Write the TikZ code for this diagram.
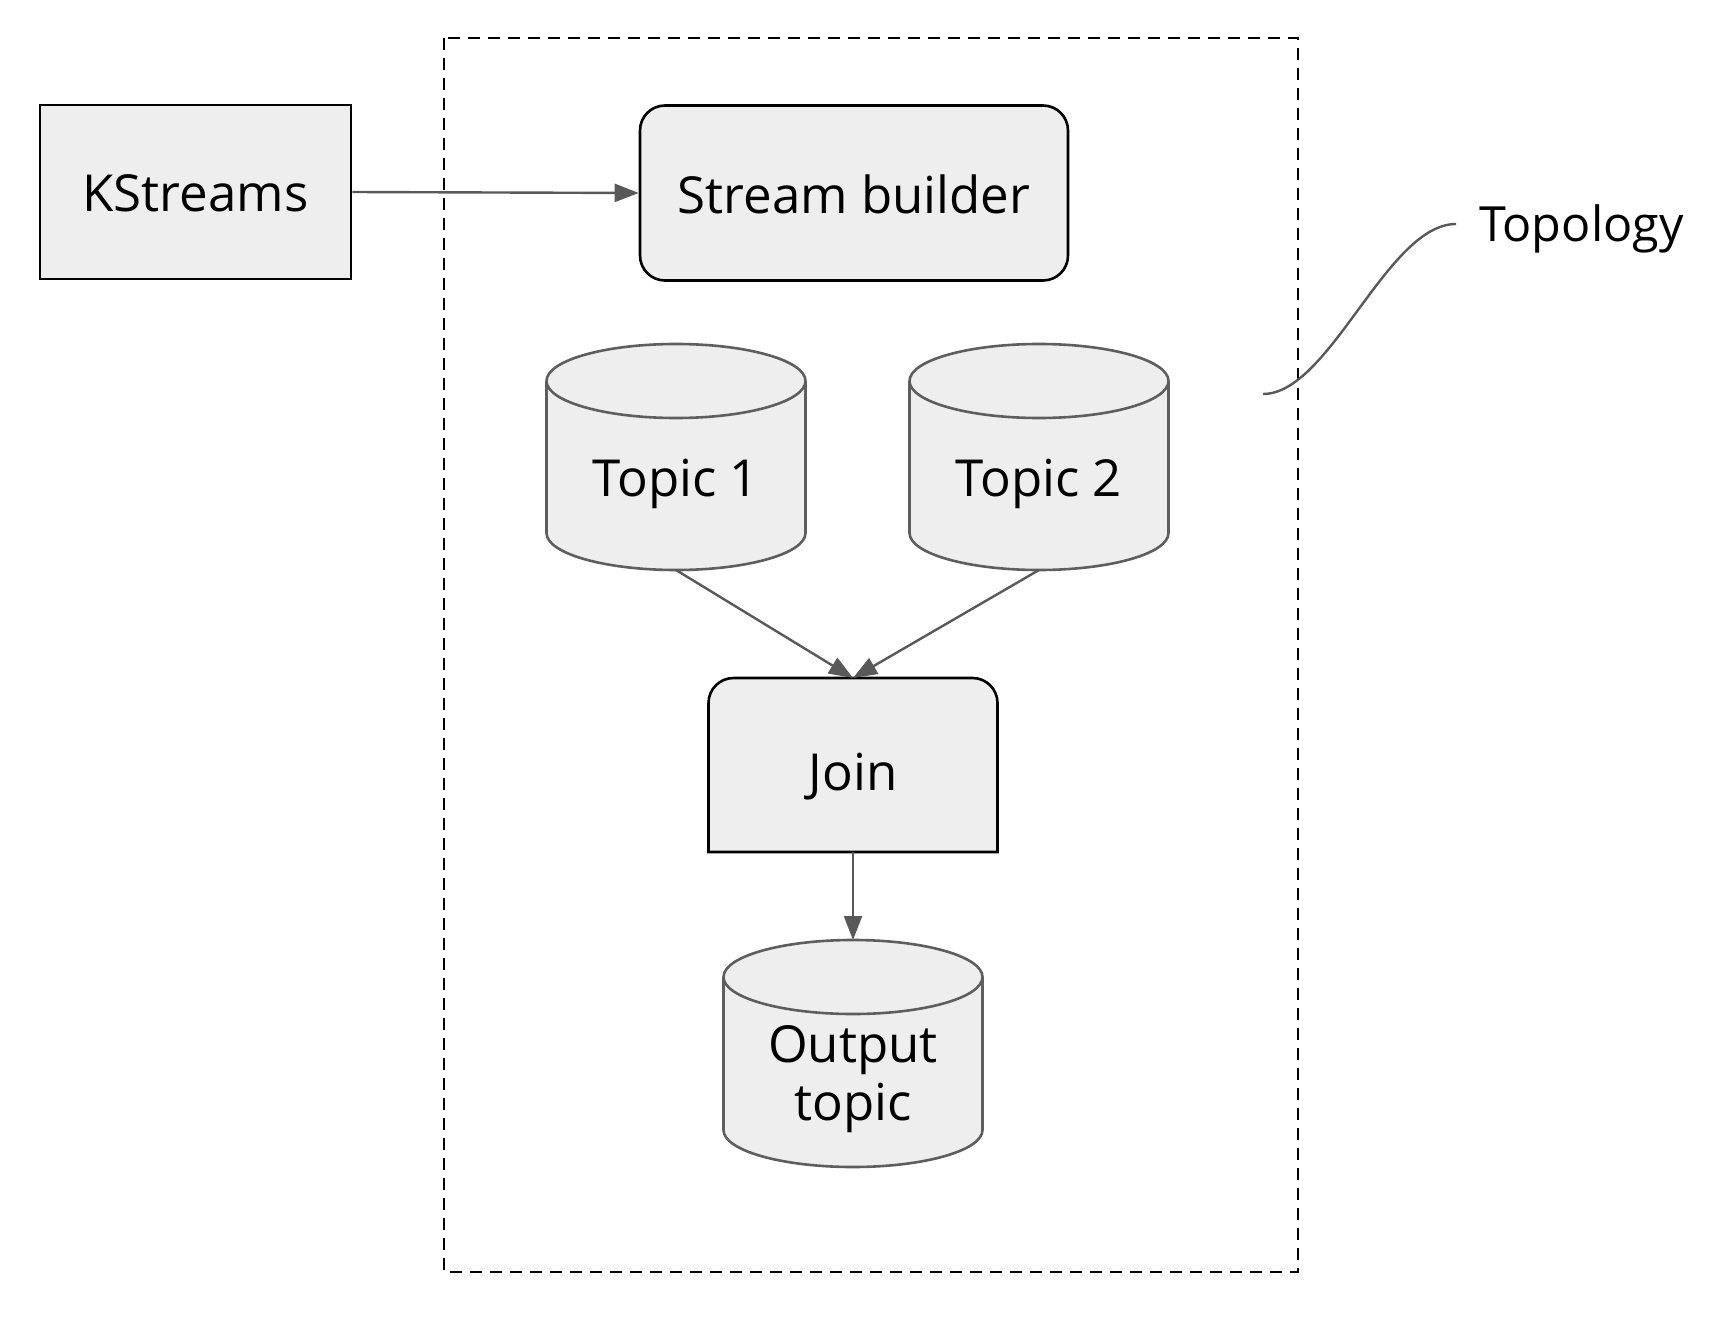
\documentclass[tikz,border=0pt]{standalone}
\usepackage{fontspec}
\setmainfont{Open Sans}
\usetikzlibrary{arrows.meta}
\definecolor{boxfill}{HTML}{EEEEEE}
\definecolor{edgegray}{HTML}{595959}
\definecolor{cylline}{HTML}{5E5E5E}
\newcommand\diaglabel{\fontsize{51}{60}\selectfont}
\newcommand\sidelabel{\fontsize{48.5}{58}\selectfont}
\tikzset{
  box/.style={draw=black, fill=boxfill, line width=2.6pt, inner sep=0pt},
  roundbox/.style={box, rounded corners=25pt},
  ghost/.style={draw=none, inner sep=0pt, outer sep=0pt},
  cylbody/.style={draw=cylline, fill=boxfill, line width=2.6pt},
  txt/.style={inner sep=0pt, anchor=base, font=\diaglabel, text=black},
  conn/.style={draw=edgegray, line width=2.4pt, -{Triangle[length=24pt,width=18pt]}},
  frame/.style={draw=black, line width=2.4pt, dash pattern=on 12pt off 8pt},
  leader/.style={draw=edgegray, line width=2.4pt}
}
\newcommand\cylpath[1]{%
  \draw[cylbody] ([yshift=-37pt]#1.north west) -- ([yshift=37pt]#1.south west)
    arc[start angle=180, end angle=360, x radius=129.5pt, y radius=37pt]
    -- ([yshift=-37pt]#1.north east)
    arc[start angle=0, end angle=180, x radius=129.5pt, y radius=37pt] -- cycle;
  \draw[cylbody, fill=none] ([yshift=-37pt]#1.north west)
    arc[start angle=180, end angle=360, x radius=129.5pt, y radius=37pt];
}
\begin{document}
\begin{tikzpicture}[x=1pt, y=-1pt]
\useasboundingbox (0,0) rectangle (1726,1332);
\fill[white] (0,0) rectangle (1726,1332);

% dashed topology frame
\node[ghost, minimum width=854pt, minimum height=1234pt] (frm) at (871,655) {};
\draw[frame] (frm.north west) rectangle (frm.south east);

% KStreams
\node[box, minimum width=311pt, minimum height=174pt] (ks) at (195.5,192) {};
\node[txt] (kst) at (195.5,212) {KStreams};

% Stream builder
\node[roundbox, minimum width=428pt, minimum height=175pt] (sb) at (854,193) {};
\node[txt] (sbt) at (854,214) {Stream builder};

% Topic 1 / Topic 2
\node[ghost, minimum width=259pt, minimum height=226pt] (t1) at (676,457) {};
\cylpath{t1}
\node[txt] (t1t) at (676,496) {Topic 1};
\node[ghost, minimum width=259pt, minimum height=226pt] (t2) at (1039,457) {};
\cylpath{t2}
\node[txt] (t2t) at (1039,496) {Topic 2};

% Join
\node[ghost, minimum width=289pt, minimum height=174pt] (join) at (853,765) {};
\draw[box] (join.south west) -- ([yshift=-25pt]join.north west)
  arc[start angle=180, end angle=90, radius=25pt]
  -- ([xshift=-25pt]join.north east)
  arc[start angle=90, end angle=0, radius=25pt]
  -- (join.south east) -- cycle;
\node[txt] (joint) at (853,790) {Join};

% Output topic
\node[ghost, minimum width=259pt, minimum height=227pt] (out) at (853,1053.5) {};
\cylpath{out}
\node[txt] (outt1) at (853,1062) {Output};
\node[txt] (outt2) at (853,1120) {topic};

% Topology label
\node[txt, anchor=base west, font=\sidelabel] (topo) at (1479,242) {Topology};
\coordinate (cs) at (1263,394);
\coordinate (ce) at (1456,224);
\draw[leader] (cs) .. controls (1330,394) and (1387,224) .. (ce);

% connectors
\draw[conn] (ks.east) -- (sb.west);
\draw[conn] (t1.south) -- (join.north);
\draw[conn] (t2.south) -- (join.north);
\draw[conn] (join.south) -- (out.north);
\end{tikzpicture}
\end{document}
